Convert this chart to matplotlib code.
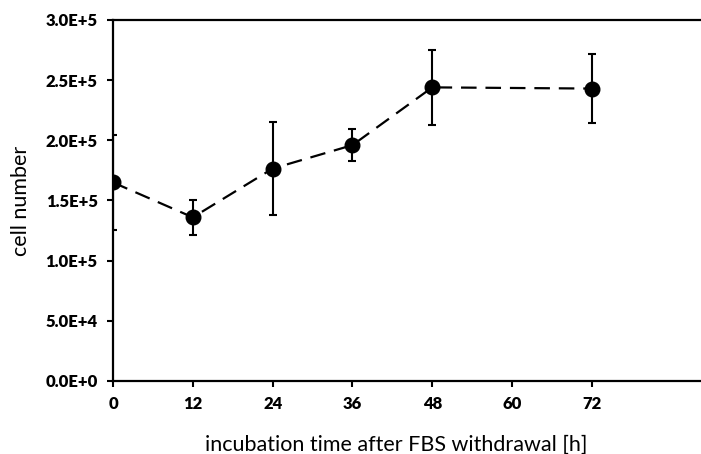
import numpy as np
import matplotlib.pyplot as plt

# incubation time [h] and cell counts (mean +/- error)
hours = [0, 12, 24, 36, 48, 72]
cells = [165000, 136000, 176500, 196000, 244000, 243000]
cells_err = [39500, 14500, 38500, 13300, 31000, 28600]

xticks = [0, 12, 24, 36, 48, 60, 72]
yticks = [0, 5e4, 1e5, 1.5e5, 2e5, 2.5e5, 3e5]
ytick_labels = ['0.0E+0', '5.0E+4', '1.0E+5', '1.5E+5', '2.0E+5', '2.5E+5', '3.0E+5']

plt.rcParams['font.family'] = ['Lato', 'DejaVu Sans']

fig = plt.figure(figsize=(7.01, 4.54), dpi=100)
ax = fig.add_axes([0.1612, 0.1608, 0.8388, 0.7952])

ax.errorbar(hours, cells, yerr=cells_err, color='black', fmt='o', ms=10.5,
            ecolor='black', elinewidth=1.5, capsize=2.6, capthick=1.5, zorder=3)
ax.plot(hours, cells, color='black', lw=1.6, dashes=(7, 4), zorder=2)

ax.set_xlim(0, 88.4)
ax.set_ylim(0, 3e5)
ax.set_xticks(xticks)
ax.set_xticklabels([str(t) for t in xticks], fontweight='heavy', fontsize=12)
ax.set_yticks(yticks)
ax.set_yticklabels(ytick_labels, fontweight='heavy', fontsize=12)
ax.tick_params(direction='out', length=4, width=1.5, pad=7)

for s in ['left', 'bottom', 'top']:
    ax.spines[s].set_linewidth(1.6)
ax.spines['right'].set_visible(False)

ax.set_xlabel('incubation time after FBS withdrawal [h]', fontsize=15.5)
ax.xaxis.set_label_coords(0.481, -0.15)
ax.set_ylabel('cell number', fontsize=15.5, labelpad=10)

plt.savefig('out.png', dpi=100)
